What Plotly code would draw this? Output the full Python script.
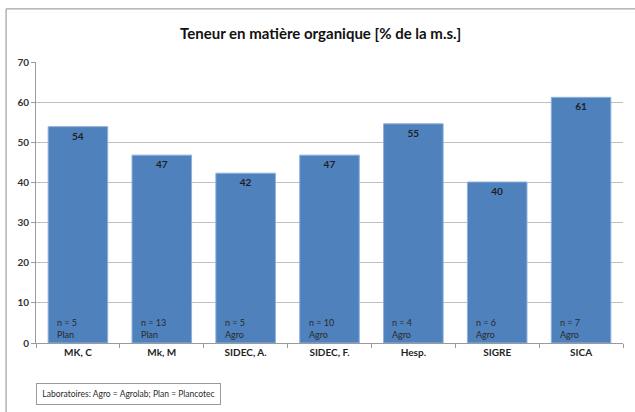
import plotly.graph_objects as go

categories = ["MK, C", "Mk, M", "SIDEC, A.", "SIDEC, F.", "Hesp.", "SIGRE", "SICA"]
values = [53.9, 46.8, 42.3, 46.8, 54.6, 40.1, 61.2]
n_counts = [5, 13, 5, 10, 4, 6, 7]
labs = ["Plan", "Plan", "Agro", "Agro", "Agro", "Agro", "Agro"]

FONT = "Lato, Calibri, sans-serif"
BAR = "#4F81BD"

fig = go.Figure()
fig.add_trace(go.Bar(
    x=categories, y=values,
    marker=dict(color=BAR, line=dict(color="#8DB0DC", width=1)),
    texttemplate="%{y:.0f}",
    textposition="inside",
    insidetextanchor="end",
    textfont=dict(family=FONT, size=10, color="#1F1F1F", weight="bold"),
    constraintext="none",
    showlegend=False,
))

for cat, n, lab in zip(categories, n_counts, labs):
    fig.add_annotation(
        x=cat, y=0, xref="x", yref="y",
        text=f"n = {n}<br>{lab}", showarrow=False,
        xanchor="left", yanchor="bottom", align="left",
        xshift=-23, yshift=1,
        font=dict(family=FONT, size=9, color="#2A2A2A"),
    )

# note box under the axis
fig.add_annotation(
    x=0, y=-0.181, xref="paper", yref="paper",
    text="Laboratoires: Agro = Agrolab; Plan = Plancotec",
    showarrow=False, xanchor="left", yanchor="middle",
    width=181, height=18, align="center",
    bordercolor="#9A9A9A", borderwidth=1, borderpad=1,
    font=dict(family=FONT, size=8.5, color="#2A2A2A"),
)

# outer chart border
fig.add_shape(type="rect", xref="paper", yref="paper",
              x0=-0.051, x1=1.1, y0=-0.4, y1=1.189,
              line=dict(color="#8C8C8C", width=1))

fig.update_layout(
    width=635, height=412,
    margin=dict(l=36, r=12, t=62, b=69),
    paper_bgcolor="white", plot_bgcolor="white",
    bargap=0.29,
    title=dict(text="Teneur en matière organique [% de la m.s.]",
               x=0.505, xanchor="center", y=0.918, yanchor="middle",
               font=dict(family=FONT, size=15, color="#111111", weight="bold")),
    font=dict(family=FONT),
)
fig.update_yaxes(range=[0, 70], dtick=10, showgrid=True, gridcolor="#BFBFBF", gridwidth=1,
                 showline=True, linecolor="#9A9A9A", ticks="outside", ticklen=4,
                 tickcolor="#9A9A9A", zeroline=False,
                 tickfont=dict(family=FONT, size=10, color="#333333", weight="bold"))
fig.update_xaxes(showline=True, linecolor="#9A9A9A", ticks="outside", ticklen=4,
                 tickcolor="#9A9A9A", tickson="boundaries",
                 tickfont=dict(family=FONT, size=10, color="#1F1F1F", weight="bold"))

# drop the default body margin so the figure sits at the window's corner
fig.write_html("out.html", config={"displayModeBar": False},
               post_script="document.body.style.margin='0';")
